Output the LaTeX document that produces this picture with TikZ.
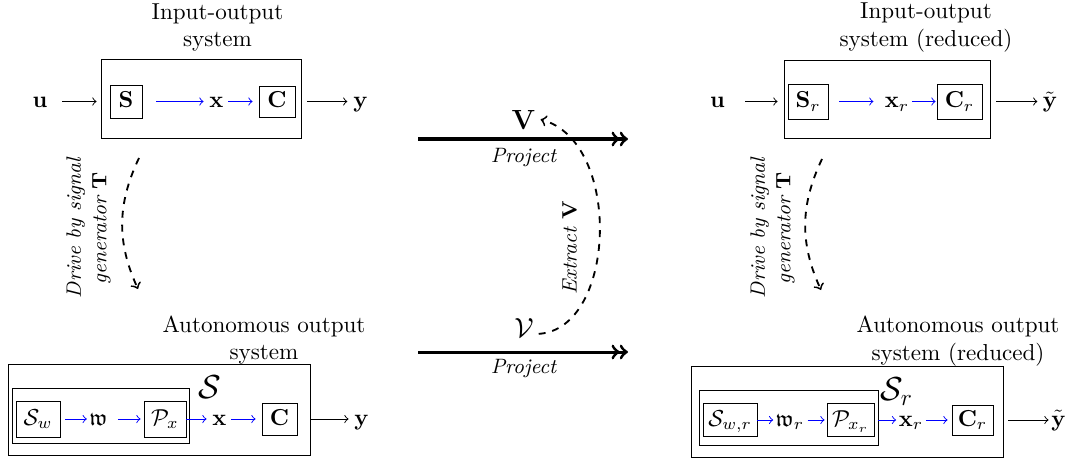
\documentclass[tikz,border=0pt]{standalone}
\usepackage{amssymb}
\newcommand\pxu{0.4329pt}
\tikzset{
  lab/.style={inner sep=1pt, text height=1.5ex, text depth=.25ex},
  blk/.style={draw, line width=0.4pt, inner sep=0pt, text height=1.5ex, text depth=.25ex},
  frame/.style={draw, line width=0.4pt, inner sep=0pt},
  ttl/.style={align=center, inner sep=0pt},
  sig/.style={->, blue, line width=0.4pt},
  io/.style={->, line width=0.4pt},
  proj/.style={->>, line width=1.3pt},
  drive/.style={->, dashed, thick},
  note/.style={font=\small\itshape, align=center, rotate=90, inner sep=0pt},
  projlab/.style={font=\small\itshape, inner sep=0pt},
}
\begin{document}
\begin{tikzpicture}[x=0.4329pt, y=-0.4329pt]
\useasboundingbox (0,0) rectangle (1073,458);

% ---------- top-left: input-output system
\node[ttl] (t1) at (217.5,27.5) {Input-output\\system};
\node[frame, minimum width=200*\pxu, minimum height=79*\pxu] (o1) at (201,98.5) {};
\node[lab] (u1) at (40,101.5) {$\mathbf{u}$};
\node[blk, minimum width=32*\pxu, minimum height=33*\pxu] (s1) at (126,101.5) {$\mathbf{S}$};
\node[lab] (x1) at (216.5,101.5) {$\mathbf{x}$};
\node[blk, minimum width=36*\pxu, minimum height=31*\pxu] (c1) at (277,101.5) {$\mathbf{C}$};
\node[lab] (y1) at (360.5,101.5) {$\mathbf{y}$};
\draw[io, shorten <=12.3*\pxu, shorten >=4*\pxu] (u1) -- (u1 -| o1.west);
\draw[sig, shorten <=14*\pxu, shorten >=3.2*\pxu] (s1) -- (x1);
\draw[sig, shorten <=2.2*\pxu, shorten >=6*\pxu] (x1) -- (c1);
\draw[io, shorten <=6*\pxu, shorten >=3.2*\pxu] (c1 -| o1.east) -- (y1);

% ---------- top-right: reduced input-output system
\node[ttl] (t2) at (926,27.5) {Input-output\\system (reduced)};
\node[frame, minimum width=206*\pxu, minimum height=78*\pxu] (o2) at (887,99) {};
\node[lab] (u2) at (717.5,101.5) {$\mathbf{u}$};
\node[blk, minimum width=40*\pxu, minimum height=35*\pxu] (s2) at (808,101.5) {$\mathbf{S}_r$};
\node[lab] (x2) at (897,101.5) {$\mathbf{x}_r$};
\node[blk, minimum width=45*\pxu, minimum height=35*\pxu] (c2) at (959.5,101.5) {$\mathbf{C}_r$};
\node[lab] (y2) at (1050,101.5) {$\tilde{\mathbf{y}}$};
\draw[io, shorten <=17.8*\pxu, shorten >=6*\pxu] (u2) -- (u2 -| o2.west);
\draw[sig, shorten <=11*\pxu, shorten >=8.7*\pxu] (s2) -- (x2);
\draw[sig, shorten >=1*\pxu] (x2) -- (c2);
\draw[io, shorten <=6*\pxu, shorten >=2.7*\pxu] (c2 -| o2.east) -- (y2);

% ---------- bottom-left: autonomous output system
\node[ttl] (t3) at (264,340) {Autonomous output\\system};
\node[frame, minimum width=302*\pxu, minimum height=91*\pxu] (o3) at (159,409.5) {};
\node[frame, minimum width=177*\pxu, minimum height=55*\pxu] (i3) at (100.5,415.5) {};
\node[font=\Large, inner sep=0pt] (sl3) at (209.5,387) {$\mathcal{S}$};
\node[blk, minimum width=44*\pxu, minimum height=36*\pxu] (sw3) at (38,419) {$\mathcal{S}_w$};
\node[lab] (w3) at (98.5,419) {$\mathfrak{w}$};
\node[blk, minimum width=42*\pxu, minimum height=36*\pxu] (p3) at (165,419) {$\mathcal{P}_x$};
\node[lab] (x3) at (219.5,419) {$\mathbf{x}$};
\node[blk, minimum width=35*\pxu, minimum height=32*\pxu] (c3) at (279.5,419) {$\mathbf{C}$};
\node[lab] (y3) at (361.5,419) {$\mathbf{y}$};
\draw[sig, shorten <=5*\pxu] (sw3) -- (w3);
\draw[sig, shorten <=7.7*\pxu, shorten >=3*\pxu] (w3) -- (p3);
\draw[sig, shorten >=3.2*\pxu] (p3) -- (x3);
\draw[sig, shorten <=2.2*\pxu, shorten >=6*\pxu] (x3) -- (c3);
\draw[io, shorten >=3*\pxu] (c3 -| o3.east) -- (y3);

% ---------- bottom-right: reduced autonomous output system
\node[ttl] (t4) at (958,341) {Autonomous output\\system (reduced)};
\node[frame, minimum width=312*\pxu, minimum height=91*\pxu] (o4) at (847,411.5) {};
\node[frame, minimum width=179*\pxu, minimum height=55*\pxu] (i4) at (788.5,417.5) {};
\node[font=\Large, inner sep=0pt] (sl4) at (897,392) {$\mathcal{S}_r$};
\node[blk, minimum width=54*\pxu, minimum height=33*\pxu] (sw4) at (730,420) {$\mathcal{S}_{w,r}$};
\node[lab] (w4) at (790,420) {$\mathfrak{w}_r$};
\node[blk, minimum width=47*\pxu, minimum height=33*\pxu] (p4) at (850.5,420) {$\mathcal{P}_{x_r}$};
\node[lab] (x4) at (911,420) {$\mathbf{x}_r$};
\node[blk, minimum width=41*\pxu, minimum height=30*\pxu] (c4) at (972.5,420) {$\mathbf{C}_r$};
\node[lab] (y4) at (1058.5,420) {$\tilde{\mathbf{y}}$};
\draw[sig] (sw4) -- (w4);
\draw[sig, shorten <=0.7*\pxu, shorten >=2*\pxu] (w4) -- (p4);
\draw[sig, shorten <=4*\pxu] (p4) -- (x4);
\draw[sig, shorten >=4*\pxu] (x4) -- (c4);
\draw[io, shorten <=5*\pxu] (c4 -| o4.east) -- (y4);

% ---------- drive by signal generator
\coordinate (d1a) at (139,158);
\coordinate (d1b) at (138,289);
\draw[drive] (d1a) to[bend right=25] (d1b);
\node[note] (dl1) at (88.5,228) {Drive by signal\\generator $\mathbf{T}$};
\coordinate (d2a) at (822,159);
\coordinate (d2b) at (821,290);
\draw[drive] (d2a) to[bend right=25] (d2b);
\node[note] (dl2) at (772.5,228) {Drive by signal\\generator $\mathbf{T}$};

% ---------- middle: project / extract
\coordinate (pa1) at (418,139);
\coordinate (pb1) at (628,139);
\draw[proj] (pa1) -- (pb1);
\node[projlab] (pj1) at (523.5,157.5) {Project};
\coordinate (pa2) at (418,352);
\coordinate (pb2) at (628,352);
\draw[proj] (pa2) -- (pb2);
\node[projlab] (pj2) at (523.5,369) {Project};
\node[font=\large, inner sep=2pt] (V) at (523.5,119.5) {$\mathbf{V}$};
\node[font=\large, inner sep=2pt] (cV) at (524,328.5) {$\mathcal{V}$};
\draw[drive] (cV.-20) .. controls +(78,-5) and +(82,22) .. (V.east);
\node[font=\small, rotate=90, inner sep=0pt] (ex) at (569.5,247.5) {\textit{Extract} $\mathbf{V}$};
\end{tikzpicture}
\end{document}
